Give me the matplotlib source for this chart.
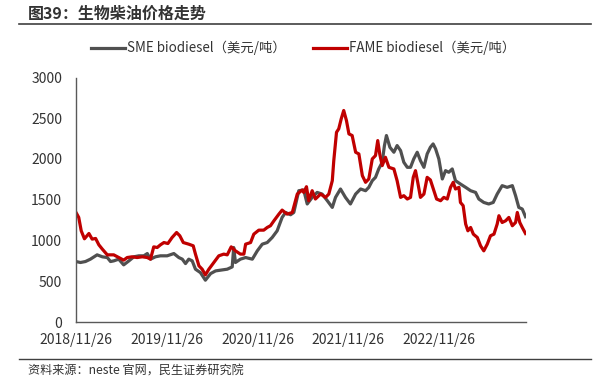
import matplotlib
matplotlib.use("Agg")
import matplotlib.pyplot as plt
import matplotlib.dates as mdates
from matplotlib.lines import Line2D
import pandas as pd

plt.rcParams['font.family'] = ['Noto Sans CJK SC', 'DejaVu Sans']

# SME biodiesel (USD/t)
sme_dates = [
    "2018-11-26", "2018-12-14", "2019-01-03", "2019-01-23", "2019-02-19", "2019-03-12",
    "2019-04-01", "2019-04-14", "2019-04-27", "2019-05-17", "2019-06-06", "2019-06-27",
    "2019-07-17", "2019-08-06", "2019-08-26", "2019-09-09", "2019-09-22", "2019-10-12",
    "2019-11-01", "2019-11-28", "2019-12-25", "2020-01-14", "2020-01-28", "2020-02-10",
    "2020-02-23", "2020-03-08", "2020-03-21", "2020-04-10", "2020-04-30", "2020-05-21",
    "2020-06-10", "2020-06-30", "2020-07-27", "2020-08-16", "2020-08-22", "2020-08-29",
    "2020-09-18", "2020-10-09", "2020-11-05", "2020-11-25", "2020-12-15", "2021-01-04",
    "2021-01-24", "2021-02-13", "2021-03-05", "2021-03-19", "2021-04-08", "2021-04-21",
    "2021-05-11", "2021-05-31", "2021-06-14", "2021-07-04", "2021-07-24", "2021-08-13",
    "2021-09-03", "2021-09-23", "2021-10-06", "2021-10-26", "2021-11-15", "2021-12-05",
    "2021-12-26", "2022-01-15", "2022-02-04", "2022-02-17", "2022-03-03", "2022-03-16",
    "2022-03-29", "2022-04-12", "2022-04-21", "2022-04-29", "2022-05-13", "2022-05-29",
    "2022-06-11", "2022-06-25", "2022-07-08", "2022-07-22", "2022-08-04", "2022-08-17",
    "2022-08-31", "2022-09-13", "2022-09-27", "2022-10-10", "2022-10-23", "2022-11-03",
    "2022-11-13", "2022-11-26", "2022-12-10", "2022-12-23", "2023-01-05", "2023-01-19",
    "2023-02-01", "2023-02-21", "2023-03-14", "2023-04-03", "2023-04-23", "2023-05-06",
    "2023-05-26", "2023-06-15", "2023-07-03", "2023-07-19", "2023-08-08", "2023-08-28",
    "2023-09-18", "2023-10-01", "2023-10-14", "2023-10-28", "2023-11-10",
]
sme_values = [
    742, 730, 742, 771, 824, 800,
    791, 742, 750, 771, 701, 750,
    800, 812, 812, 840, 771, 800,
    812, 812, 840, 791, 771, 717,
    771, 750, 648, 606, 513, 594,
    627, 636, 648, 676, 914, 730,
    771, 791, 771, 873, 955, 975,
    1037, 1119, 1283, 1344, 1316, 1344,
    1611, 1620, 1448, 1529, 1590, 1570,
    1488, 1406, 1529, 1632, 1529, 1448,
    1570, 1632, 1611, 1652, 1734, 1775,
    1878, 1960, 2165, 2288, 2144, 2083,
    2165, 2103, 1960, 1898, 1898, 2001,
    2083, 1980, 1898, 2062, 2144, 2185,
    2124, 2001, 1755, 1857, 1837, 1878,
    1734, 1693, 1652, 1611, 1590, 1509,
    1467, 1448, 1467, 1570, 1673, 1652,
    1673, 1550, 1406, 1386, 1292,
]

# FAME biodiesel (USD/t)
fame_dates = [
    "2018-11-26", "2018-12-07", "2018-12-17", "2018-12-30", "2019-01-17", "2019-01-30",
    "2019-02-13", "2019-02-26", "2019-03-12", "2019-04-01", "2019-04-27", "2019-05-17",
    "2019-06-06", "2019-06-20", "2019-07-10", "2019-07-30", "2019-08-20", "2019-09-09",
    "2019-09-22", "2019-10-05", "2019-10-19", "2019-11-01", "2019-11-15", "2019-12-01",
    "2019-12-18", "2020-01-05", "2020-01-18", "2020-02-01", "2020-02-23", "2020-03-12",
    "2020-03-21", "2020-04-04", "2020-04-17", "2020-04-30", "2020-05-14", "2020-06-03",
    "2020-06-23", "2020-07-13", "2020-07-27", "2020-08-12", "2020-08-29", "2020-09-18",
    "2020-10-02", "2020-10-09", "2020-10-29", "2020-11-11", "2020-12-01", "2020-12-21",
    "2021-01-04", "2021-01-17", "2021-01-31", "2021-02-20", "2021-03-05", "2021-03-25",
    "2021-04-15", "2021-05-05", "2021-05-25", "2021-05-31", "2021-06-11", "2021-06-20",
    "2021-07-04", "2021-07-17", "2021-08-07", "2021-08-27", "2021-09-09", "2021-09-23",
    "2021-09-29", "2021-10-10", "2021-10-19", "2021-10-29", "2021-11-08", "2021-11-19",
    "2021-11-29", "2021-12-12", "2021-12-26", "2022-01-08", "2022-01-22", "2022-02-04",
    "2022-02-17", "2022-03-03", "2022-03-16", "2022-03-25", "2022-04-02", "2022-04-12",
    "2022-04-25", "2022-05-09", "2022-05-29", "2022-06-11", "2022-06-25", "2022-07-08",
    "2022-07-22", "2022-08-04", "2022-08-15", "2022-08-24", "2022-09-02", "2022-09-13",
    "2022-09-27", "2022-10-10", "2022-10-23", "2022-11-06", "2022-11-17", "2022-12-03",
    "2022-12-16", "2022-12-30", "2023-01-12", "2023-01-23", "2023-02-01", "2023-02-15",
    "2023-02-21", "2023-03-04", "2023-03-14", "2023-03-23", "2023-04-03", "2023-04-14",
    "2023-04-30", "2023-05-13", "2023-05-26", "2023-06-09", "2023-06-22", "2023-07-06",
    "2023-07-19", "2023-07-26", "2023-08-08", "2023-08-22", "2023-09-04", "2023-09-18",
    "2023-10-01", "2023-10-08", "2023-10-18", "2023-10-28", "2023-11-10",
]
fame_values = [
    1344, 1283, 1119, 1021, 1086, 1017,
    1025, 947, 894, 824, 824, 791,
    759, 791, 800, 791, 800, 791,
    771, 922, 914, 947, 975, 963,
    1037, 1098, 1058, 975, 955, 935,
    833, 689, 648, 578, 648, 729,
    812, 833, 824, 922, 873, 833,
    833, 955, 975, 1078, 1127, 1127,
    1160, 1181, 1242, 1324, 1373, 1324,
    1344, 1570, 1620, 1590, 1660, 1488,
    1611, 1509, 1570, 1529, 1570, 1734,
    1980, 2328, 2370, 2493, 2595, 2472,
    2308, 2288, 2083, 2062, 1796, 1714,
    1755, 2001, 2042, 2226, 2062, 1919,
    2021, 1898, 1878, 1734, 1529, 1550,
    1509, 1529, 1775, 1857, 1714, 1529,
    1570, 1775, 1743, 1611, 1509, 1488,
    1529, 1509, 1652, 1714, 1632, 1652,
    1467, 1427, 1202, 1119, 1160, 1078,
    1037, 935, 873, 955, 1058, 1078,
    1202, 1304, 1221, 1242, 1283, 1181,
    1221, 1344, 1221, 1160, 1086,
]

tick_dates = ["2018-11-26", "2019-11-26", "2020-11-26", "2021-11-26", "2022-11-26"]
y_ticks = [0, 500, 1000, 1500, 2000, 2500, 3000]

sme_x = pd.to_datetime(sme_dates)
fame_x = pd.to_datetime(fame_dates)

fig = plt.figure(figsize=(5.99, 3.82), dpi=100)
ax = fig.add_axes([76 / 599, 1 - 322 / 382, 450 / 599, 244.5 / 382])

ax.plot(sme_x, sme_values, color='#505050', lw=2.3, label='SME biodiesel（美元/吨）')
ax.plot(fame_x, fame_values, color='#C00000', lw=2.3, label='FAME biodiesel（美元/吨）')

ax.set_xlim(pd.Timestamp("2018-11-26"), pd.Timestamp("2023-11-12"))
ax.set_ylim(0, 3000)
ax.set_yticks(y_ticks)
ax.set_xticks(pd.to_datetime(tick_dates))
ax.xaxis.set_major_formatter(mdates.DateFormatter('%Y/%m/%d'))
ax.tick_params(axis='both', length=0, labelsize=10, colors='#333333')
ax.tick_params(axis='y', pad=10)
ax.tick_params(axis='x', pad=8)
for s in ['top', 'right']:
    ax.spines[s].set_visible(False)
for s in ['left', 'bottom']:
    ax.spines[s].set_color('#595959')
    ax.spines[s].set_linewidth(1.0)

fig.legend(loc='center', bbox_to_anchor=(303 / 599, 1 - 48 / 382), ncol=2, frameon=False,
           fontsize=9.6, handlelength=2.5, handletextpad=0.15, columnspacing=2.1,
           labelcolor='#333333')

# title and frame lines
fig.text(28 / 599, 1 - 14 / 382, '图39：生物柴油价格走势', fontsize=11.5, fontweight='bold',
         color='#333333', va='center', ha='left')
fig.add_artist(Line2D([19 / 599, 591 / 599], [1 - 24 / 382, 1 - 24 / 382],
                      color='#404040', lw=1.2))
fig.add_artist(Line2D([19 / 599, 591 / 599], [1 - 359 / 382, 1 - 359 / 382],
                      color='#404040', lw=1.0))
fig.text(28 / 599, 1 - 371 / 382, '资料来源：neste 官网，民生证券研究院', fontsize=8.7,
         color='#333333', va='center', ha='left')

fig.savefig('out.png', dpi=100)
